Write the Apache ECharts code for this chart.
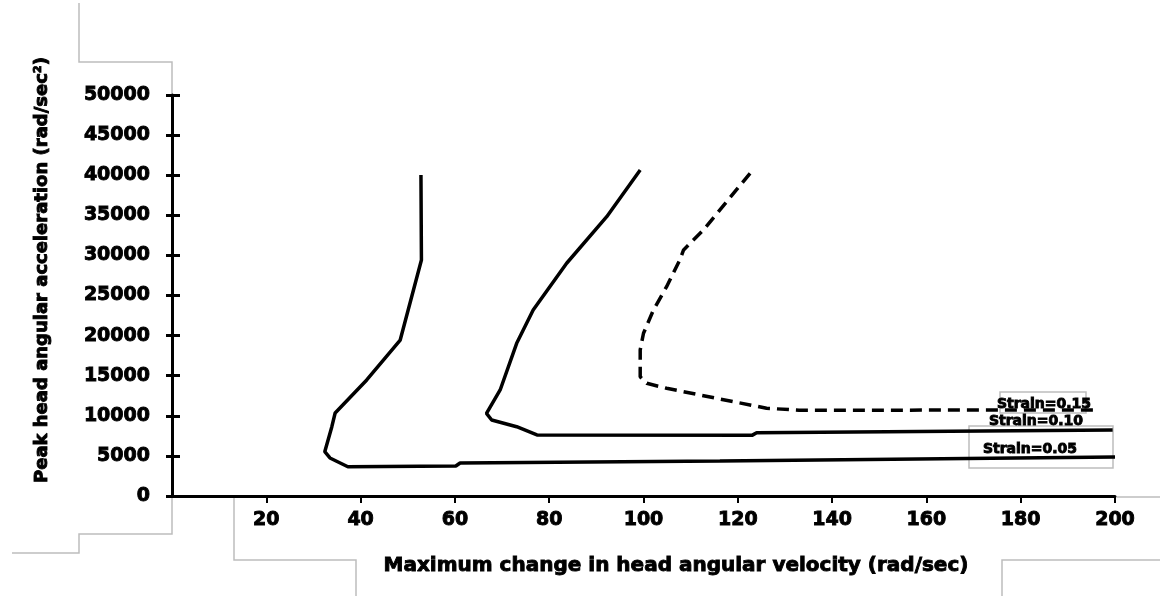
<!DOCTYPE html>
<html>
<head>
<meta charset="utf-8">
<script src="https://cdn.jsdelivr.net/npm/echarts@6/dist/echarts.min.js"></script>
<style>html,body{margin:0;padding:0;background:#fff}#c{width:1160px;height:596px}</style>
</head>
<body>
<div id="c"></div>
<script>
// Tick labels
const xTicks = [20, 40, 60, 80, 100, 120, 140, 160, 180, 200];
const yTicks = [0, 5000, 10000, 15000, 20000, 25000, 30000, 35000, 40000, 45000, 50000];

// Curve A (lowest, solid)
const curveAX = [52.8, 52.9, 48.4, 41.3, 34.6, 33.9, 32.4, 33.5, 37.3, 60.2, 61.1, 116.2, 200];
const curveAY = [40030, 29430, 19450, 14470, 10350, 8640, 5520, 4740, 3650, 3740, 4120, 4360, 4860];
// Curve B (middle, solid)
const curveBX = [99.3, 92.2, 83.7, 76.6, 73.1, 69.6, 66.7, 67.8, 73.1, 77.4, 123, 124, 199.5];
const curveBY = [40650, 34830, 29020, 23190, 19040, 13220, 10310, 9480, 8640, 7610, 7560, 7900, 8230];
// Curve C (top, dashed)
const curveCX = [122.6, 112.7, 108.5, 107.7, 104.9, 102.1, 100, 99.3, 99.3, 100.7, 104.9, 115.5, 126.1, 133, 196.4];
const curveCY = [40240, 33170, 30680, 29430, 26100, 23190, 20290, 18210, 14880, 14050, 13430, 12180, 10940, 10700, 10720];

const curveLabels = ['Strain=0.15', 'Strain=0.10', 'Strain=0.05'];
const xName = 'Maximum change in head angular velocity (rad/sec)';
const yName = 'Peak head angular acceleration (rad/sec\u00B2)';

const zip = (xs, ys) => xs.map((x, i) => [x, ys[i]]);
const FONT = 'DejaVu Sans';
const gray = '#bdbdbd';

const chart = echarts.init(document.getElementById('c'));
const grayLine = pts => ({
  type: 'polyline', silent: true,
  shape: { points: pts },
  style: { stroke: gray, lineWidth: 1.5, fill: null }
});
const grayRect = (x, y, w, h) => ({
  type: 'rect', silent: true,
  shape: { x: x, y: y, width: w, height: h },
  style: { stroke: gray, lineWidth: 1.5, fill: null }
});
const txt = (s, x, y, size, rot) => ({
  type: 'text', silent: true, x: x, y: y, rotation: rot || 0, z: 10,
  style: { text: s, font: 'bold ' + size + 'px "' + FONT + '"', fill: '#000', stroke: '#000', lineWidth: 0.9,
    align: 'center', verticalAlign: 'middle' }
});

chart.setOption({
  animation: false,
  backgroundColor: '#fff',
  grid: { left: 172, right: 45, top: 95, bottom: 100 },
  xAxis: {
    type: 'value', min: 0, max: 200, interval: 20,
    axisLine: { show: true, onZero: false, lineStyle: { color: '#000', width: 3 } },
    axisTick: { show: true, length: 7, lineStyle: { color: '#000', width: 2 } },
    axisLabel: {
      showMinLabel: false, margin: 15, color: '#000', fontFamily: FONT, fontWeight: 'bold', fontSize: 19,
      textBorderColor: '#000', textBorderWidth: 0.9,
      formatter: v => (xTicks.indexOf(v) >= 0 ? String(v) : '')
    },
    splitLine: { show: false }
  },
  yAxis: [{
    type: 'value', min: 0, max: 50000, interval: 5000,
    axisLine: { show: true, lineStyle: { color: '#000', width: 3 } },
    axisTick: { show: true, length: 6, lineStyle: { color: '#000', width: 3 } },
    axisLabel: {
      margin: 22, color: '#000', fontFamily: FONT, fontWeight: 'bold', fontSize: 19,
      textBorderColor: '#000', textBorderWidth: 0.9,
      formatter: v => (yTicks.indexOf(v) >= 0 ? String(v) : '')
    },
    splitLine: { show: false }
  }, {
    type: 'value', min: 0, max: 50000, interval: 5000, position: 'left',
    axisLine: { show: false },
    axisTick: { show: true, inside: true, length: 8, lineStyle: { color: '#000', width: 3 } },
    axisLabel: { show: false },
    splitLine: { show: false }
  }],
  series: [
    { type: 'line', data: zip(curveAX, curveAY), showSymbol: false, symbol: 'none',
      lineStyle: { color: '#000', width: 3.5 } },
    { type: 'line', data: zip(curveBX, curveBY), showSymbol: false, symbol: 'none',
      lineStyle: { color: '#000', width: 3.5 } },
    { type: 'line', data: zip(curveCX, curveCY), showSymbol: false, symbol: 'none',
      lineStyle: { color: '#000', width: 3.5, type: [12, 7] } }
  ],
  graphic: [
    grayLine([[79, 3], [79, 62], [172, 62], [172, 95]]),
    grayLine([[172, 495], [172, 534], [79, 534], [79, 553], [12, 553]]),
    grayLine([[234, 498], [234, 560], [356, 560], [356, 596]]),
    grayLine([[1002, 596], [1002, 560], [1160, 560]]),
    grayLine([[1117, 497], [1160, 497]]),
    grayRect(1000, 392, 86, 21),
    grayRect(969, 426, 144, 42),
    txt(curveLabels[0], 1044, 404, 14),
    txt(curveLabels[1], 1036, 421, 14),
    txt(curveLabels[2], 1030, 449, 14),
    txt(xName, 676, 566, 20),
    txt(yName, 42, 270, 18, Math.PI / 2)
  ]
});
</script>
</body>
</html>
